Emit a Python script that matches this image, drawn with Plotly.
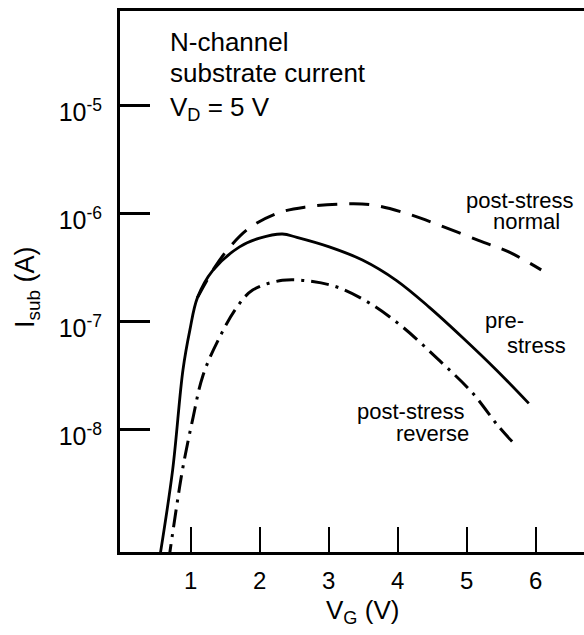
import plotly.graph_objects as go

# Gate voltage (V) and substrate current (A) for each curve
vg_pre = [0.55, 0.74, 0.89, 0.99, 1.10, 1.32, 1.71, 2.00, 2.33, 2.54, 3.01, 3.49, 3.98, 4.46, 4.94, 5.43, 5.90]
isub_pre = [6.3e-10, 4.17e-9, 3.55e-8, 8.3e-8, 1.66e-7, 2.95e-7, 4.9e-7, 5.9e-7, 6.45e-7, 6.0e-7,
            4.9e-7, 3.7e-7, 2.4e-7, 1.35e-7, 7.1e-8, 3.55e-8, 1.74e-8]

vg_normal = [1.10, 1.35, 1.57, 1.86, 2.29, 2.68, 3.16, 3.63, 4.13, 4.60, 5.18, 5.61, 6.08]
isub_normal = [1.66e-7, 3.16e-7, 4.9e-7, 7.4e-7, 1.02e-6, 1.15e-6, 1.22e-6, 1.2e-6, 1.0e-6,
               7.8e-7, 5.6e-7, 4.4e-7, 3.0e-7]

vg_reverse = [0.68, 0.79, 0.89, 1.03, 1.18, 1.42, 1.67, 1.90, 2.33, 2.77, 3.16, 3.59, 4.07, 4.60, 5.08, 5.47, 5.73]
isub_reverse = [5.9e-10, 1.78e-9, 4.47e-9, 1.23e-8, 3.16e-8, 7.1e-8, 1.35e-7, 1.95e-7, 2.4e-7, 2.34e-7,
                2.04e-7, 1.48e-7, 8.9e-8, 4.37e-8, 2.19e-8, 1.05e-8, 6.9e-9]

x_ticks = [1, 2, 3, 4, 5, 6]
y_ticks = [1e-8, 1e-7, 1e-6, 1e-5]
y_tick_text = ["10<sup>-8</sup>", "10<sup>-7</sup>", "10<sup>-6</sup>", "10<sup>-5</sup>"]

FONT = "Liberation Sans, Arial, sans-serif"
INK = "black"

fig = go.Figure()
fig.add_trace(go.Scatter(x=vg_normal, y=isub_normal, mode="lines", line_shape="spline",
                         line=dict(color=INK, width=3, dash="20px,12px")))
fig.add_trace(go.Scatter(x=vg_reverse, y=isub_reverse, mode="lines", line_shape="spline",
                         line=dict(color=INK, width=3, dash="18px,7px,3px,7px")))
fig.add_trace(go.Scatter(x=vg_pre, y=isub_pre, mode="lines", line_shape="spline",
                         line=dict(color=INK, width=2.8)))

annotations = [
    dict(text="N-channel", x=0.673, y=-4.412, xanchor="left", size=26),
    dict(text="substrate current", x=0.673, y=-4.699, xanchor="left", size=26),
    dict(text="V<sub>D</sub> = 5 V", x=0.673, y=-5.03, xanchor="left", size=26),
    dict(text="post-stress", x=5.772, y=-5.876, xanchor="center", size=22),
    dict(text="normal", x=5.874, y=-6.079, xanchor="center", size=22),
    dict(text="pre-", x=5.541, y=-6.996, xanchor="center", size=22),
    dict(text="stress", x=6.019, y=-7.219, xanchor="center", size=22),
    dict(text="post-stress", x=4.194, y=-7.830, xanchor="center", size=22),
    dict(text="reverse", x=4.498, y=-8.034, xanchor="center", size=22),
]
for a in annotations:
    fig.add_annotation(text=a["text"], x=a["x"], y=a["y"], xref="x", yref="y",
                       xanchor=a["xanchor"], yanchor="middle", showarrow=False,
                       font=dict(family=FONT, size=a["size"], color=INK))

# Axis titles placed in paper coordinates
plot_w, plot_h = 584 - 120, 635 - 11 - 83
fig.add_annotation(text="V<sub>G</sub> (V)", x=(362 - 120) / plot_w, y=(635 - 83 - 611) / plot_h,
                   xref="paper", yref="paper", xanchor="center", yanchor="middle",
                   showarrow=False, font=dict(family=FONT, size=26, color=INK))
fig.add_annotation(text="I<sub>sub</sub> (A)", x=(27 - 120) / plot_w, y=(635 - 83 - 288) / plot_h,
                   xref="paper", yref="paper", xanchor="center", yanchor="middle",
                   showarrow=False, textangle=-90, font=dict(family=FONT, size=27, color=INK))

fig.update_layout(
    width=584, height=635,
    margin=dict(l=120, r=0, t=11, b=83, pad=0),
    paper_bgcolor="white", plot_bgcolor="white",
    showlegend=False,
    font=dict(family=FONT, size=22, color=INK),
)

fig.update_xaxes(
    range=[-0.022, 6.70], tickvals=x_ticks, ticks="inside", ticklen=25, tickwidth=1.6,
    tickcolor=INK, showline=True, linewidth=2.8, linecolor=INK, mirror=True,
    showgrid=False, zeroline=False, ticklabelstandoff=5,
    tickfont=dict(family=FONT, size=24, color=INK),
)
fig.update_yaxes(
    type="log", range=[-9.136, -4.125], tickvals=y_ticks, ticktext=y_tick_text,
    ticks="inside", ticklen=30, tickwidth=2.6, tickcolor=INK,
    showline=True, linewidth=2.8, linecolor=INK, mirror=False,
    showgrid=False, zeroline=False, ticklabelstandoff=10, ticklabelshift=7,
    tickfont=dict(family=FONT, size=25, color=INK),
)

fig.write_html("out.html")
